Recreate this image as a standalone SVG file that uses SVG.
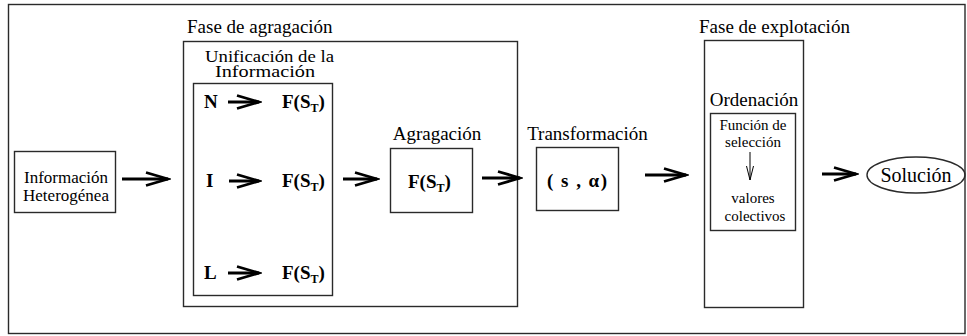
<svg xmlns="http://www.w3.org/2000/svg" width="967" height="336" viewBox="0 0 967 336" font-family="'Liberation Serif', 'Times New Roman', serif">
<style>
text{font-family:'Liberation Serif','Times New Roman',serif;fill:#000}
.box{fill:none;stroke:#2a2a2a;stroke-width:1.4}
.lbl{font-size:19px}
.sm{font-size:15px}
.b{font-weight:bold;font-size:19px}
.sub{font-size:12px}
.arr{stroke:#000;stroke-width:3;fill:none}
.head{stroke:#000;stroke-width:2.8;fill:none;stroke-linejoin:miter;stroke-miterlimit:30}
</style>
<defs>
<marker id="ah" markerUnits="userSpaceOnUse" markerWidth="26" markerHeight="18" refX="23" refY="9" orient="auto">
<path d="M1,2.5 L23,9 L1,15.5" class="head"/>
</marker>
</defs>
<rect x="0" y="0" width="967" height="336" fill="#fff"/>
<rect id="frame" x="8.5" y="4.5" width="956.5" height="329" class="box"/>

<g id="info">
<rect x="14.5" y="151.5" width="101" height="61" class="box"/>
<text x="66" y="183" font-size="17" text-anchor="middle">Información</text>
<text x="66" y="201" font-size="17" text-anchor="middle">Heterogénea</text>
</g>

<g id="fase-agragacion">
<rect x="183.5" y="41.5" width="334" height="265" class="box"/>
<text x="187" y="33" class="lbl">Fase de agragación</text>
</g>

<g id="unificacion">
<rect x="193.5" y="83.5" width="139" height="212" class="box"/>
<text x="205" y="62" font-size="16" textLength="129" lengthAdjust="spacingAndGlyphs">Unificación de la</text>
<text x="215" y="77" font-size="16" textLength="100" lengthAdjust="spacingAndGlyphs">Información</text>
<text x="204" y="108" class="b">N</text>
<text x="282" y="108" class="b">F(S<tspan class="sub" dy="4">T</tspan><tspan dy="-4">)</tspan></text>
<text x="206" y="187" class="b">I</text>
<text x="282" y="187" class="b">F(S<tspan class="sub" dy="4">T</tspan><tspan dy="-4">)</tspan></text>
<text x="204" y="279" class="b">L</text>
<text x="282" y="279" class="b">F(S<tspan class="sub" dy="4">T</tspan><tspan dy="-4">)</tspan></text>
</g>

<g id="agragacion">
<rect x="390.5" y="148.5" width="82" height="64" class="box"/>
<text x="437" y="140" class="lbl" text-anchor="middle">Agragación</text>
<text x="408" y="188" class="b">F(S<tspan class="sub" dy="4">T</tspan><tspan dy="-4">)</tspan></text>
</g>

<g id="transformacion">
<rect x="536.5" y="147.5" width="82" height="63" class="box"/>
<text x="587.5" y="140" class="lbl" text-anchor="middle">Transformación</text>
<text x="547" y="187" class="b" textLength="60">( s , α)</text>
</g>

<g id="fase-explotacion">
<rect x="704.5" y="40.5" width="99" height="267" class="box"/>
<text x="699" y="33" class="lbl">Fase de explotación</text>
<text x="754" y="106" class="lbl" text-anchor="middle">Ordenación</text>
</g>

<g id="seleccion">
<rect x="710.5" y="113.5" width="85" height="117" class="box"/>
<text x="753" y="130" class="sm" text-anchor="middle">Función de</text>
<text x="753" y="147" class="sm" text-anchor="middle">selección</text>
<text x="753" y="203" class="sm" text-anchor="middle">valores</text>
<text x="755" y="221" class="sm" text-anchor="middle">colectivos</text>
</g>

<g id="solucion">
<ellipse cx="916" cy="175" rx="49" ry="18" class="box"/>
<text x="916" y="181.5" font-size="20" text-anchor="middle">Solución</text>
</g>

<g id="connectors">
<line x1="122" y1="179" x2="168" y2="179" class="arr" marker-end="url(#ah)"/>
<line x1="228" y1="102" x2="259" y2="102" class="arr" marker-end="url(#ah)"/>
<line x1="229" y1="181" x2="259" y2="181" class="arr" marker-end="url(#ah)"/>
<line x1="228" y1="273" x2="259" y2="273" class="arr" marker-end="url(#ah)"/>
<line x1="343" y1="179" x2="377" y2="179" class="arr" marker-end="url(#ah)"/>
<line x1="482" y1="178" x2="520" y2="178" class="arr" marker-end="url(#ah)"/>
<line x1="645" y1="175" x2="686" y2="175" class="arr" marker-end="url(#ah)"/>
<line x1="822" y1="174" x2="856" y2="174" class="arr" marker-end="url(#ah)"/>
<line x1="750" y1="152" x2="750" y2="180" stroke="#000" stroke-width="1"/>
<path d="M746.5,166 L750,180 L753.5,166" fill="none" stroke="#000" stroke-width="1"/>
</g>
</svg>
